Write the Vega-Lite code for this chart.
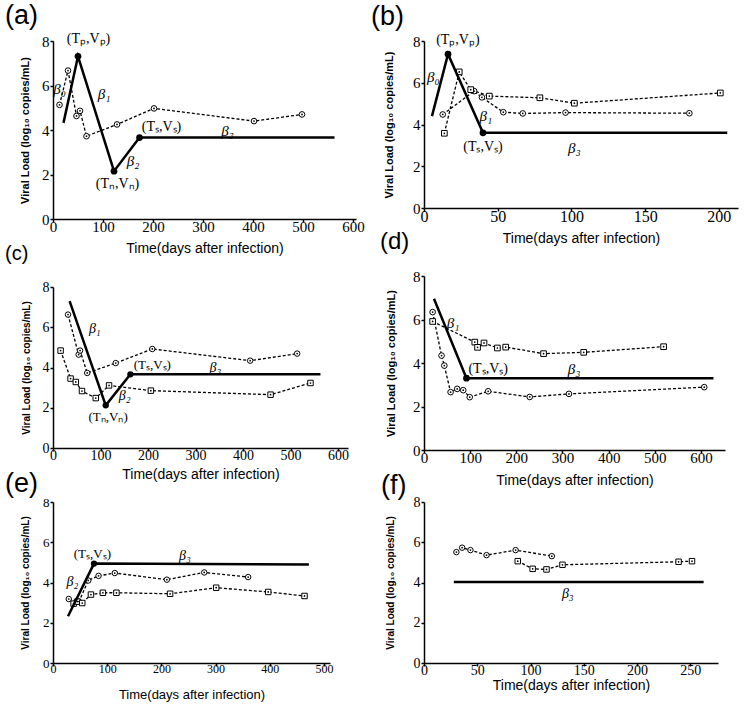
{
"$schema": "https://vega.github.io/schema/vega-lite/v6.json",
"background": "white",
"padding": {"left": 5, "top": 2, "right": 5, "bottom": 5},
"config": {
 "view": {"stroke": null},
 "axis": {"grid": false, "domainColor": "black", "domainWidth": 1.5, "tickColor": "black", "tickWidth": 1.5, "tickSize": 3, "labelColor": "black", "labelFont": "Liberation Serif", "titleColor": "black", "labelFlush": false, "labelOverlap": false},
 "axisY": {"titleFont": "Liberation Sans", "titleFontWeight": "bold", "labelPadding": 1},
 "axisX": {"titleFont": "Liberation Sans", "titleFontWeight": "normal", "labelPadding": -3},
 "title": {"font": "Liberation Sans", "fontWeight": "normal", "anchor": "start", "frame": "group", "color": "black"},
 "text": {"font": "Liberation Serif", "color": "black"}
},
"datasets": {
 "a_obs": [{"t":13,"v":5.13,"s":"circle"},{"t":30,"v":6.67,"s":"circle"},{"t":47,"v":4.63,"s":"circle"},{"t":54,"v":4.86,"s":"circle"},{"t":67,"v":3.72,"s":"circle"},{"t":128,"v":4.25,"s":"circle"},{"t":202,"v":4.97,"s":"circle"},{"t":402,"v":4.40,"s":"circle"},{"t":498,"v":4.70,"s":"circle"}],
 "a_fit": [{"t":21,"v":4.32,"k":0},{"t":50,"v":7.31,"k":1},{"t":122,"v":2.15,"k":1},{"t":173,"v":3.66,"k":1},{"t":563,"v":3.66,"k":0}],
 "a_lab": [{"t":71,"v":8.08,"label":"(Tₚ,Vₚ)","kind":"p"},{"t":217,"v":4.12,"label":"(Tₛ,Vₛ)","kind":"p"},{"t":129,"v":1.56,"label":"(Tₙ,Vₙ)","kind":"p"},{"t":13,"v":5.85,"label":"β₀","kind":"b"},{"t":102,"v":5.62,"label":"β₁","kind":"b"},{"t":160,"v":2.59,"label":"β₂","kind":"b"},{"t":349,"v":3.94,"label":"β₃","kind":"b"}],
 "b_obs": [{"t":12.7,"v":4.48,"s":"circle"},{"t":34,"v":5.6,"s":"circle"},{"t":39.3,"v":5.3,"s":"circle"},{"t":53.8,"v":4.59,"s":"circle"},{"t":67,"v":4.53,"s":"circle"},{"t":96,"v":4.57,"s":"circle"},{"t":180,"v":4.54,"s":"circle"},
           {"t":13.8,"v":3.58,"s":"square"},{"t":23.9,"v":6.52,"s":"square"},{"t":31.7,"v":5.67,"s":"square"},{"t":44.3,"v":5.36,"s":"square"},{"t":78.6,"v":5.28,"s":"square"},{"t":102,"v":5.02,"s":"square"},{"t":201,"v":5.51,"s":"square"}],
 "b_fit": [{"t":5.4,"v":4.40,"k":0},{"t":16.3,"v":7.37,"k":1},{"t":40,"v":3.6,"k":1},{"t":205.7,"v":3.6,"k":0}],
 "b_lab": [{"t":23,"v":8.06,"label":"(Tₚ,Vₚ)","kind":"p"},{"t":40,"v":2.93,"label":"(Tₛ,Vₛ)","kind":"p"},{"t":6.3,"v":6.29,"label":"β₀","kind":"b"},{"t":42,"v":4.40,"label":"β₁","kind":"b"},{"t":102,"v":2.89,"label":"β₃","kind":"b"}],
 "c_obs": [{"t":31.6,"v":6.63,"s":"circle"},{"t":54,"v":4.64,"s":"circle"},{"t":57,"v":4.84,"s":"circle"},{"t":72,"v":3.73,"s":"circle"},{"t":132,"v":4.22,"s":"circle"},{"t":209,"v":4.92,"s":"circle"},{"t":415,"v":4.34,"s":"circle"},{"t":514,"v":4.69,"s":"circle"},
           {"t":16,"v":4.84,"s":"square"},{"t":37,"v":3.45,"s":"square"},{"t":48,"v":3.28,"s":"square"},{"t":61,"v":2.83,"s":"square"},{"t":90,"v":2.48,"s":"square"},{"t":118,"v":3.11,"s":"square"},{"t":206,"v":2.85,"s":"square"},{"t":458,"v":2.65,"s":"square"},{"t":542,"v":3.23,"s":"square"}],
 "c_fit": [{"t":35,"v":7.30,"k":0},{"t":111,"v":2.12,"k":1},{"t":163,"v":3.66,"k":1},{"t":563,"v":3.66,"k":0}],
 "c_lab": [{"t":209,"v":4.11,"label":"(Tₛ,Vₛ)","kind":"p"},{"t":116,"v":1.54,"label":"(Tₙ,Vₙ)","kind":"p"},{"t":88,"v":5.93,"label":"β₁","kind":"b"},{"t":151,"v":2.58,"label":"β₂","kind":"b"},{"t":342,"v":3.99,"label":"β₃","kind":"b"}],
 "d_obs": [{"t":18.7,"v":6.34,"s":"circle"},{"t":38,"v":4.34,"s":"circle"},{"t":44,"v":3.88,"s":"circle"},{"t":57.6,"v":2.66,"s":"circle"},{"t":72,"v":2.81,"s":"circle"},{"t":85,"v":2.75,"s":"circle"},{"t":99,"v":2.43,"s":"circle"},{"t":139,"v":2.70,"s":"circle"},{"t":229,"v":2.44,"s":"circle"},{"t":314,"v":2.58,"s":"circle"},{"t":607,"v":2.89,"s":"circle"},
           {"t":18.7,"v":5.91,"s":"square"},{"t":110,"v":4.96,"s":"square"},{"t":116,"v":4.72,"s":"square"},{"t":130,"v":4.92,"s":"square"},{"t":159,"v":4.69,"s":"square"},{"t":177,"v":4.73,"s":"square"},{"t":259,"v":4.43,"s":"square"},{"t":346,"v":4.49,"s":"square"},{"t":519,"v":4.75,"s":"square"}],
 "d_fit": [{"t":21.6,"v":6.95,"k":0},{"t":92,"v":3.30,"k":1},{"t":627,"v":3.30,"k":0}],
 "d_lab": [{"t":139,"v":3.73,"label":"(Tₛ,Vₛ)","kind":"p"},{"t":63,"v":5.86,"label":"β₁","kind":"b"},{"t":325,"v":3.73,"label":"β₃","kind":"b"}],
 "e_obs": [{"t":29,"v":3.18,"s":"circle"},{"t":48,"v":3.05,"s":"circle"},{"t":65,"v":4.1,"s":"circle"},{"t":84,"v":4.33,"s":"circle"},{"t":114,"v":4.47,"s":"circle"},{"t":210,"v":4.14,"s":"circle"},{"t":279,"v":4.50,"s":"circle"},{"t":360,"v":4.27,"s":"circle"},
           {"t":38,"v":2.95,"s":"square"},{"t":45,"v":3.05,"s":"square"},{"t":54,"v":2.98,"s":"square"},{"t":70,"v":3.40,"s":"square"},{"t":92,"v":3.49,"s":"square"},{"t":117,"v":3.49,"s":"square"},{"t":216,"v":3.44,"s":"square"},{"t":301,"v":3.74,"s":"square"},{"t":397,"v":3.53,"s":"square"},{"t":464,"v":3.33,"s":"square"}],
 "e_fit": [{"t":27.7,"v":2.32,"k":0},{"t":75.6,"v":4.94,"k":1},{"t":472,"v":4.9,"k":0}],
 "e_lab": [{"t":72.6,"v":5.43,"label":"(Tₛ,Vₛ)","kind":"p"},{"t":35.7,"v":4.02,"label":"β₂","kind":"b"},{"t":243.5,"v":5.32,"label":"β₃","kind":"b"}],
 "f_obs": [{"t":30.4,"v":5.51,"s":"circle"},{"t":35.8,"v":5.73,"s":"circle"},{"t":43.6,"v":5.61,"s":"circle"},{"t":58.7,"v":5.36,"s":"circle"},{"t":86,"v":5.61,"s":"circle"},{"t":120,"v":5.31,"s":"circle"},
           {"t":88,"v":5.06,"s":"square"},{"t":102,"v":4.68,"s":"square"},{"t":115,"v":4.65,"s":"square"},{"t":130,"v":4.88,"s":"square"},{"t":239,"v":5.03,"s":"square"},{"t":251.6,"v":5.06,"s":"square"}],
 "f_fit": [{"t":28,"v":4.02,"k":0},{"t":262.5,"v":4.02,"k":0}],
 "f_lab": [{"t":135,"v":3.44,"label":"β₃","kind":"b"}]
},
"spacing": 6,
"hconcat": [
 {"spacing": -11, "vconcat": [
  {"width": 303, "height": 178,
   "title": {"text": "(a)", "fontSize": 27, "dx": -48, "offset": 2},
   "encoding": {
    "x": {"field": "t", "type": "quantitative", "scale": {"domain": [0, 606], "nice": false}, "axis": {"values": [0,100,200,300,400,500,600], "title": "Time(days after infection)", "titleFontSize": 14, "labelFontSize": 15, "titlePadding": 7}},
    "y": {"field": "v", "type": "quantitative", "scale": {"domain": [0, 8], "nice": false}, "axis": {"values": [0,2,4,6,8], "title": "Viral Load (log₁₀ copies/mL)", "titleFontSize": 11, "labelFontSize": 15, "titlePadding": 11}}
   },
   "layer": [
    {"data": {"name": "a_obs"}, "mark": {"type": "line", "strokeDash": [3,2], "strokeWidth": 1.3, "color": "black"}, "encoding": {"detail": {"field": "s"}}},
    {"data": {"name": "a_obs"}, "mark": {"type": "point", "filled": true, "fill": "white", "stroke": "black", "strokeWidth": 1, "size": 32, "opacity": 1}, "encoding": {"shape": {"field": "s", "type": "nominal", "scale": {"domain": ["circle","square"], "range": ["circle","square"]}, "legend": null}}},
    {"data": {"name": "a_obs"}, "mark": {"type": "point", "filled": true, "color": "black", "size": 3, "opacity": 1}},
    {"data": {"name": "a_fit"}, "mark": {"type": "line", "strokeWidth": 2.5, "color": "black"}},
    {"data": {"name": "a_fit"}, "transform": [{"filter": "datum.k == 1"}], "mark": {"type": "point", "filled": true, "color": "black", "size": 45, "opacity": 1}},
    {"data": {"name": "a_lab"}, "transform": [{"filter": "datum.kind == 'p'"}], "mark": {"type": "text", "fontSize": 14}, "encoding": {"text": {"field": "label"}}},
    {"data": {"name": "a_lab"}, "transform": [{"filter": "datum.kind == 'b'"}], "mark": {"type": "text", "fontSize": 15, "fontStyle": "italic"}, "encoding": {"text": {"field": "label"}}}
   ]
  },
  {"width": 295, "height": 161,
   "title": {"text": "(c)", "fontSize": 20, "dx": -48, "offset": 16},
   "encoding": {
    "x": {"field": "t", "type": "quantitative", "scale": {"domain": [0, 621], "nice": false}, "axis": {"values": [0,100,200,300,400,500,600], "title": "Time(days after infection)", "titleFontSize": 14, "labelFontSize": 14, "titlePadding": 5}},
    "y": {"field": "v", "type": "quantitative", "scale": {"domain": [0, 8], "nice": false}, "axis": {"values": [0,2,4,6,8], "title": "Viral Load (log₁₀ copies/mL)", "titleFontSize": 10, "labelFontSize": 14, "titlePadding": 11}}
   },
   "layer": [
    {"data": {"name": "c_obs"}, "mark": {"type": "line", "strokeDash": [3,2], "strokeWidth": 1.3, "color": "black"}, "encoding": {"detail": {"field": "s"}}},
    {"data": {"name": "c_obs"}, "mark": {"type": "point", "filled": true, "fill": "white", "stroke": "black", "strokeWidth": 1, "size": 30, "opacity": 1}, "encoding": {"shape": {"field": "s", "type": "nominal", "scale": {"domain": ["circle","square"], "range": ["circle","square"]}, "legend": null}}},
    {"data": {"name": "c_obs"}, "mark": {"type": "point", "filled": true, "color": "black", "size": 3, "opacity": 1}},
    {"data": {"name": "c_fit"}, "mark": {"type": "line", "strokeWidth": 2.5, "color": "black"}},
    {"data": {"name": "c_fit"}, "transform": [{"filter": "datum.k == 1"}], "mark": {"type": "point", "filled": true, "color": "black", "size": 40, "opacity": 1}},
    {"data": {"name": "c_lab"}, "transform": [{"filter": "datum.kind == 'p'"}], "mark": {"type": "text", "fontSize": 13}, "encoding": {"text": {"field": "label"}}},
    {"data": {"name": "c_lab"}, "transform": [{"filter": "datum.kind == 'b'"}], "mark": {"type": "text", "fontSize": 14, "fontStyle": "italic"}, "encoding": {"text": {"field": "label"}}}
   ]
  },
  {"width": 277, "height": 161,
   "title": {"text": "(e)", "fontSize": 27, "dx": -48, "offset": -2},
   "encoding": {
    "x": {"field": "t", "type": "quantitative", "scale": {"domain": [0, 511], "nice": false}, "axis": {"values": [0,100,200,300,400,500], "title": "Time(days after infection)", "titleFontSize": 13, "labelFontSize": 12, "titlePadding": 14}},
    "y": {"field": "v", "type": "quantitative", "scale": {"domain": [0, 8], "nice": false}, "axis": {"values": [0,2,4,6,8], "title": "Viral Load (log₁₀ copies/mL)", "titleFontSize": 10, "labelFontSize": 13, "titlePadding": 12}}
   },
   "layer": [
    {"data": {"name": "e_obs"}, "mark": {"type": "line", "strokeDash": [3,2], "strokeWidth": 1.3, "color": "black"}, "encoding": {"detail": {"field": "s"}}},
    {"data": {"name": "e_obs"}, "mark": {"type": "point", "filled": true, "fill": "white", "stroke": "black", "strokeWidth": 1, "size": 30, "opacity": 1}, "encoding": {"shape": {"field": "s", "type": "nominal", "scale": {"domain": ["circle","square"], "range": ["circle","square"]}, "legend": null}}},
    {"data": {"name": "e_obs"}, "mark": {"type": "point", "filled": true, "color": "black", "size": 3, "opacity": 1}},
    {"data": {"name": "e_fit"}, "mark": {"type": "line", "strokeWidth": 2.5, "color": "black"}},
    {"data": {"name": "e_fit"}, "transform": [{"filter": "datum.k == 1"}], "mark": {"type": "point", "filled": true, "color": "black", "size": 40, "opacity": 1}},
    {"data": {"name": "e_lab"}, "transform": [{"filter": "datum.kind == 'p'"}], "mark": {"type": "text", "fontSize": 13}, "encoding": {"text": {"field": "label"}}},
    {"data": {"name": "e_lab"}, "transform": [{"filter": "datum.kind == 'b'"}], "mark": {"type": "text", "fontSize": 14, "fontStyle": "italic"}, "encoding": {"text": {"field": "label"}}}
   ]
  }
 ]},
 {"spacing": -15, "vconcat": [
  {"width": 314, "height": 167,
   "title": {"text": "(b)", "fontSize": 27, "dx": -53, "offset": 2},
   "encoding": {
    "x": {"field": "t", "type": "quantitative", "scale": {"domain": [0, 213], "nice": false}, "axis": {"values": [0,50,100,150,200], "title": "Time(days after infection)", "titleFontSize": 14, "labelFontSize": 16, "titlePadding": 7}},
    "y": {"field": "v", "type": "quantitative", "scale": {"domain": [0, 8], "nice": false}, "axis": {"values": [0,2,4,6,8], "title": "Viral Load (log₁₀ copies/mL)", "titleFontSize": 11, "labelFontSize": 15, "titlePadding": 18}}
   },
   "layer": [
    {"data": {"name": "b_obs"}, "mark": {"type": "line", "strokeDash": [3,2], "strokeWidth": 1.3, "color": "black"}, "encoding": {"detail": {"field": "s"}}},
    {"data": {"name": "b_obs"}, "mark": {"type": "point", "filled": true, "fill": "white", "stroke": "black", "strokeWidth": 1, "size": 32, "opacity": 1}, "encoding": {"shape": {"field": "s", "type": "nominal", "scale": {"domain": ["circle","square"], "range": ["circle","square"]}, "legend": null}}},
    {"data": {"name": "b_obs"}, "mark": {"type": "point", "filled": true, "color": "black", "size": 3, "opacity": 1}},
    {"data": {"name": "b_fit"}, "mark": {"type": "line", "strokeWidth": 2.5, "color": "black"}},
    {"data": {"name": "b_fit"}, "transform": [{"filter": "datum.k == 1"}], "mark": {"type": "point", "filled": true, "color": "black", "size": 45, "opacity": 1}},
    {"data": {"name": "b_lab"}, "transform": [{"filter": "datum.kind == 'p'"}], "mark": {"type": "text", "fontSize": 14}, "encoding": {"text": {"field": "label"}}},
    {"data": {"name": "b_lab"}, "transform": [{"filter": "datum.kind == 'b'"}], "mark": {"type": "text", "fontSize": 15, "fontStyle": "italic"}, "encoding": {"text": {"field": "label"}}}
   ]
  },
  {"width": 301, "height": 174,
   "title": {"text": "(d)", "fontSize": 24, "dx": -44, "offset": 15},
   "encoding": {
    "x": {"field": "t", "type": "quantitative", "scale": {"domain": [0, 652], "nice": false}, "axis": {"values": [0,100,200,300,400,500,600], "title": "Time(days after infection)", "titleFontSize": 14, "labelFontSize": 15, "titlePadding": 8}},
    "y": {"field": "v", "type": "quantitative", "scale": {"domain": [0, 8], "nice": false}, "axis": {"values": [0,2,4,6,8], "title": "Viral Load (log₁₀ copies/mL)", "titleFontSize": 11, "labelFontSize": 15, "titlePadding": 16}}
   },
   "layer": [
    {"data": {"name": "d_obs"}, "mark": {"type": "line", "strokeDash": [3,2], "strokeWidth": 1.3, "color": "black"}, "encoding": {"detail": {"field": "s"}}},
    {"data": {"name": "d_obs"}, "mark": {"type": "point", "filled": true, "fill": "white", "stroke": "black", "strokeWidth": 1, "size": 32, "opacity": 1}, "encoding": {"shape": {"field": "s", "type": "nominal", "scale": {"domain": ["circle","square"], "range": ["circle","square"]}, "legend": null}}},
    {"data": {"name": "d_obs"}, "mark": {"type": "point", "filled": true, "color": "black", "size": 3, "opacity": 1}},
    {"data": {"name": "d_fit"}, "mark": {"type": "line", "strokeWidth": 2.5, "color": "black"}},
    {"data": {"name": "d_fit"}, "transform": [{"filter": "datum.k == 1"}], "mark": {"type": "point", "filled": true, "color": "black", "size": 45, "opacity": 1}},
    {"data": {"name": "d_lab"}, "transform": [{"filter": "datum.kind == 'p'"}], "mark": {"type": "text", "fontSize": 14}, "encoding": {"text": {"field": "label"}}},
    {"data": {"name": "d_lab"}, "transform": [{"filter": "datum.kind == 'b'"}], "mark": {"type": "text", "fontSize": 15, "fontStyle": "italic"}, "encoding": {"text": {"field": "label"}}}
   ]
  },
  {"width": 294, "height": 161,
   "title": {"text": "(f)", "fontSize": 27, "dx": -43, "offset": -5},
   "encoding": {
    "x": {"field": "t", "type": "quantitative", "scale": {"domain": [0, 276], "nice": false}, "axis": {"values": [0,50,100,150,200,250], "title": "Time(days after infection)", "titleFontSize": 14, "labelFontSize": 14, "titlePadding": 1}},
    "y": {"field": "v", "type": "quantitative", "scale": {"domain": [0, 8], "nice": false}, "axis": {"values": [0,2,4,6,8], "title": "Viral Load (log₁₀ copies/mL)", "titleFontSize": 10, "labelFontSize": 14, "titlePadding": 18}}
   },
   "layer": [
    {"data": {"name": "f_obs"}, "mark": {"type": "line", "strokeDash": [3,2], "strokeWidth": 1.3, "color": "black"}, "encoding": {"detail": {"field": "s"}}},
    {"data": {"name": "f_obs"}, "mark": {"type": "point", "filled": true, "fill": "white", "stroke": "black", "strokeWidth": 1, "size": 30, "opacity": 1}, "encoding": {"shape": {"field": "s", "type": "nominal", "scale": {"domain": ["circle","square"], "range": ["circle","square"]}, "legend": null}}},
    {"data": {"name": "f_obs"}, "mark": {"type": "point", "filled": true, "color": "black", "size": 3, "opacity": 1}},
    {"data": {"name": "f_fit"}, "mark": {"type": "line", "strokeWidth": 2.5, "color": "black"}},
    {"data": {"name": "f_lab"}, "transform": [{"filter": "datum.kind == 'b'"}], "mark": {"type": "text", "fontSize": 14, "fontStyle": "italic"}, "encoding": {"text": {"field": "label"}}}
   ]
  }
 ]}
]
}
